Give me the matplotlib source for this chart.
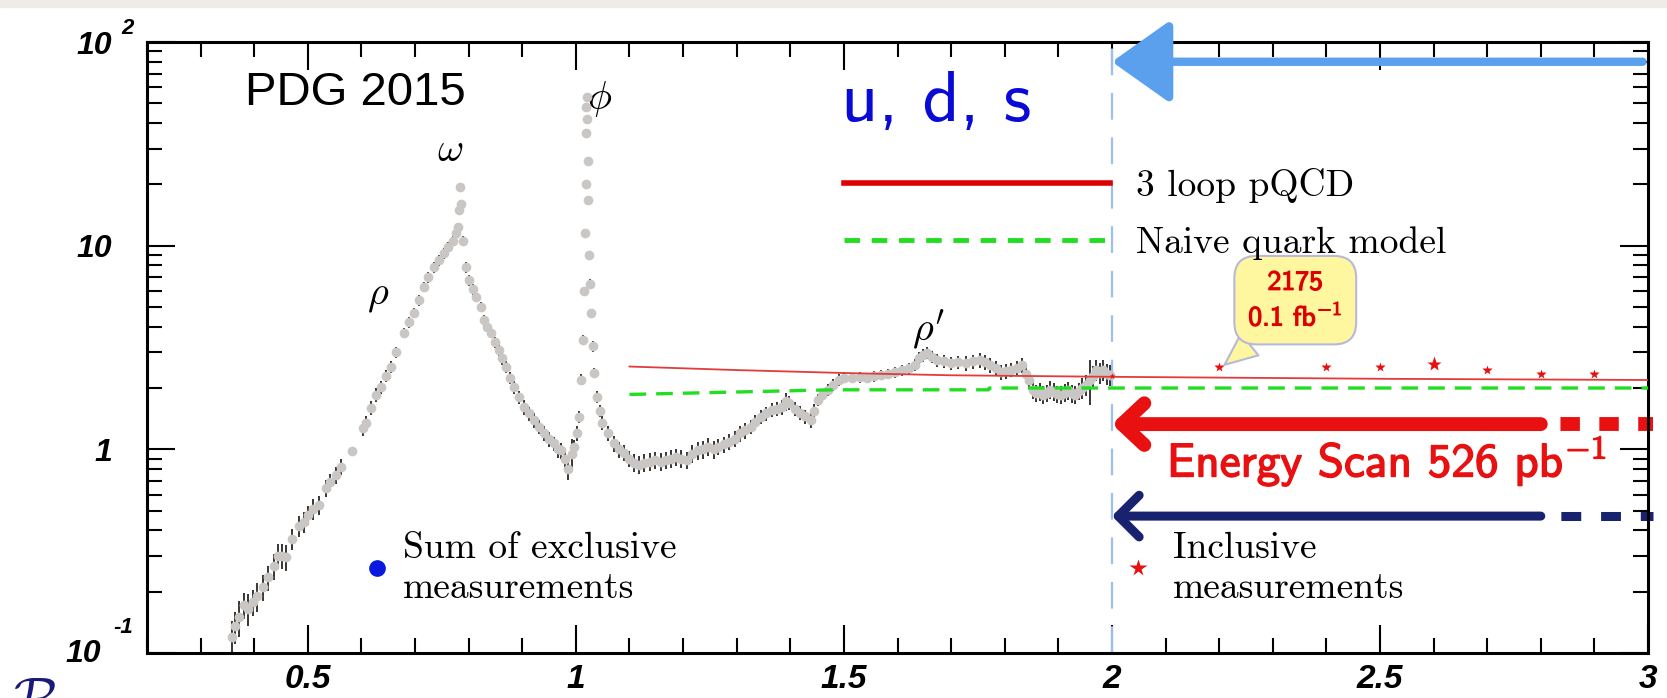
import numpy as np
import matplotlib
matplotlib.use("Agg")
import matplotlib.pyplot as plt
import matplotlib.patheffects as pe
from matplotlib.lines import Line2D
from matplotlib.patches import Rectangle
from matplotlib.ticker import MultipleLocator, LogLocator, NullFormatter

plt.rcParams['font.family'] = ['Liberation Sans', 'DejaVu Sans']

# R = sigma(ee->hadrons)/sigma(ee->mumu), sqrt(s) in GeV, error in percent
# rho / omega region
mass_a = [0.359, 0.365, 0.372, 0.380, 0.388, 0.398, 0.405, 0.417, 0.425, 0.436,
          0.445, 0.452, 0.460, 0.471, 0.483, 0.492, 0.501, 0.510, 0.520, 0.533,
          0.542, 0.552, 0.561, 0.582, 0.602, 0.608, 0.617, 0.627, 0.636, 0.645,
          0.655, 0.665, 0.679, 0.688, 0.698, 0.707, 0.716, 0.725, 0.735, 0.745,
          0.754, 0.762, 0.771, 0.776, 0.780, 0.782, 0.783, 0.785, 0.789, 0.795,
          0.801, 0.808, 0.814, 0.823, 0.829, 0.835, 0.842, 0.850, 0.857, 0.863,
          0.870, 0.877, 0.885, 0.894, 0.903, 0.912, 0.922, 0.931, 0.941, 0.950,
          0.960, 0.966, 0.973, 0.980, 0.986, 0.992]
R_a = [0.12, 0.135, 0.15, 0.172, 0.165, 0.178, 0.19, 0.211, 0.235, 0.267,
       0.30, 0.30, 0.296, 0.363, 0.42, 0.44, 0.475, 0.51, 0.533, 0.646,
       0.69, 0.748, 0.819, 0.98, 1.27, 1.35, 1.6, 1.85, 2.02, 2.3,
       2.54, 3.0, 3.73, 4.2, 4.67, 5.4, 6.27, 7.0, 7.85, 8.5,
       9.2, 9.8, 10.6, 11.5, 12.3, 15.0, 19.4, 16.0, 10.6, 7.85,
       6.78, 6.1, 5.6, 5.0, 4.3, 4.0, 3.73, 3.35, 3.07, 2.8,
       2.54, 2.25, 2.02, 1.8, 1.61, 1.5, 1.39, 1.29, 1.2, 1.12,
       1.07, 1.0, 0.99, 0.9, 0.8, 0.95]
err_a = [20, 18, 20, 15, 18, 15, 16, 15, 14, 15, 14, 14, 15, 12, 12, 12, 11, 12, 11, 10,
         10, 10, 9, 5, 8, 8, 8, 8, 7, 7, 7, 6, 6, 6, 6, 6, 6, 6, 6, 6,
         6, 6, 5, 5, 5, 5, 5, 4, 5, 6, 6, 6, 6, 6, 6, 6, 6, 6, 6, 7,
         7, 7, 7, 7, 8, 8, 8, 8, 8, 8, 8, 9, 9, 10, 12, 18]

# phi region
mass_b = [0.997, 1.003, 1.006, 1.010, 1.014, 1.016, 1.017, 1.018, 1.019, 1.0195,
          1.020, 1.021, 1.022, 1.023, 1.025, 1.027, 1.029, 1.032, 1.034, 1.039,
          1.045, 1.049, 1.059, 1.072, 1.080, 1.089, 1.100]
R_b = [1.03, 1.2, 1.44, 2.2, 3.45, 6.0, 11.5, 20.0, 35.7, 48.0,
       54.0, 42.0, 26.0, 16.7, 9.0, 6.5, 4.67, 3.2, 2.37, 1.81,
       1.55, 1.35, 1.2, 1.07, 1.0, 0.96, 0.9]
err_b = [8, 8, 7, 6, 5, 5, 4, 4, 4, 4, 4, 4, 4, 4, 4, 5, 5, 6, 6, 7,
         7, 8, 8, 9, 9, 9, 9]

# 1.1 - 1.5 GeV
mass_c = [1.109, 1.118, 1.128, 1.138, 1.148, 1.158, 1.168, 1.178, 1.187, 1.197,
          1.207, 1.217, 1.227, 1.237, 1.247, 1.257, 1.266, 1.276, 1.286, 1.296,
          1.306, 1.316, 1.326, 1.335, 1.345, 1.355, 1.365, 1.375, 1.385, 1.392,
          1.398, 1.408, 1.418, 1.428, 1.438, 1.445, 1.451, 1.460, 1.470, 1.480,
          1.490]
R_c = [0.86, 0.84, 0.86, 0.87, 0.885, 0.87, 0.885, 0.90, 0.916, 0.90,
       0.885, 0.95, 0.99, 1.0, 1.03, 1.0, 1.03, 1.06, 1.09, 1.13,
       1.20, 1.24, 1.29, 1.36, 1.44, 1.50, 1.56, 1.58, 1.61, 1.72,
       1.69, 1.58, 1.51, 1.45, 1.39, 1.55, 1.75, 1.85, 1.96, 2.08,
       2.19]
err_c = [10, 10, 10, 10, 10, 10, 10, 10, 10, 10, 10, 10, 10, 10, 10, 10, 9, 9, 9, 9,
         9, 9, 8, 8, 8, 8, 8, 8, 8, 10, 8, 8, 8, 8, 8, 8, 7, 7, 7, 7,
         7]

# 1.5 - 2.0 GeV
mass_d = [1.500, 1.516, 1.530, 1.543, 1.556, 1.569, 1.582, 1.595, 1.608, 1.622,
          1.632, 1.641, 1.648, 1.655, 1.664, 1.674, 1.687, 1.700, 1.713, 1.727,
          1.740, 1.753, 1.763, 1.773, 1.783, 1.793, 1.803, 1.812, 1.822, 1.832,
          1.840, 1.846, 1.852, 1.858, 1.865, 1.872, 1.878, 1.884, 1.891, 1.898,
          1.905, 1.912, 1.918, 1.925, 1.931, 1.938, 1.945, 1.952, 1.959, 1.965,
          1.970, 1.977, 1.983, 1.990, 1.996]
R_d = [2.25, 2.24, 2.26, 2.24, 2.28, 2.32, 2.35, 2.39, 2.44, 2.50,
       2.60, 2.80, 2.90, 2.97, 2.85, 2.74, 2.70, 2.65, 2.68, 2.65,
       2.70, 2.74, 2.68, 2.59, 2.50, 2.39, 2.42, 2.45, 2.52, 2.59,
       2.35, 2.19, 1.96, 1.89, 1.92, 1.85, 1.89, 1.96, 1.92, 1.87,
       1.85, 1.90, 1.95, 1.88, 1.85, 1.93, 2.0, 2.08, 2.19, 2.30,
       2.45, 2.38, 2.45, 2.35, 2.32]
err_d = [6, 6, 6, 6, 6, 6, 6, 6, 6, 6, 7, 7, 7, 7, 7, 7, 7, 7, 7, 8,
         8, 8, 8, 8, 8, 8, 8, 8, 8, 8, 10, 10, 10, 10, 10, 10, 10, 10, 10, 10,
         10, 10, 10, 10, 10, 10, 12, 12, 25, 12, 12, 12, 12, 12, 12]

# theory curves
qcd_mass = [1.1, 1.3, 1.5, 1.7, 2.0, 2.5, 3.0]
qcd_R = [2.55, 2.45, 2.37, 2.31, 2.27, 2.22, 2.19]
qpm_mass = [1.10, 1.48, 1.77, 1.771, 3.0]
qpm_R = [1.86, 1.96, 1.96, 2.0, 2.0]

# inclusive measurements
incl_mass = [2.0, 2.2, 2.4, 2.5, 2.6, 2.7, 2.8, 2.9]
incl_R = [2.30, 2.54, 2.54, 2.54, 2.61, 2.46, 2.35, 2.35]
incl_ms = [5, 7, 7, 7, 11, 7, 7, 7]

# scan ranges
scan_lo, scan_hi = 2.0, 2.8
scan_R = 1.33
incl_arrow_R = 0.47
top_arrow_R = 80

x_ticks = [0.5, 1, 1.5, 2, 2.5, 3]
x_tick_labels = ['0.5', '1', '1.5', '2', '2.5', '3']
y_ticks = [0.1, 1, 10, 100]
y_tick_labels = ['', '1', '10', '10']

RED = '#e81010'
GREEN = '#22dd22'
NAVY = '#18226e'

fig = plt.figure(figsize=(16.67, 6.98), dpi=100)
fig.patches.append(Rectangle((0, 1 - 7 / 698), 1, 7 / 698, transform=fig.transFigure,
                             color='#efebe7', zorder=0))
ax = fig.add_axes([0.0882, 0.0645, 0.9004, 0.8753])

m = np.concatenate([mass_a, mass_b, mass_c, mass_d])
r = np.concatenate([R_a, R_b, R_c, R_d])
e = r * np.concatenate([err_a, err_b, err_c, err_d]) / 100.0
ax.vlines(m, r - e, r + e, color='black', lw=1.1, zorder=3)
ax.plot(m, r, 'o', color='#c9c6c3', ms=7, mec='none', zorder=4)

ax.plot(qcd_mass, qcd_R, color='#e03c3c', lw=1.3, zorder=5)
ax.plot(qpm_mass, qpm_R, color=GREEN, lw=2.4, dashes=(5, 3), zorder=5)
for xm, yr, s in zip(incl_mass, incl_R, incl_ms):
    ax.plot(xm, yr, '*', color=RED, ms=s, mec='none', zorder=6)

ax.axvline(scan_lo, color='#9cc0ec', lw=1.6, dashes=(12, 8), zorder=2)

# arrows
ax.annotate('', xy=(scan_lo, top_arrow_R), xytext=(2.99, top_arrow_R),
            arrowprops=dict(arrowstyle='-|>,head_length=3.6,head_width=2.55',
                            mutation_scale=10, lw=6, color='#5aa0ec',
                            shrinkA=0, shrinkB=0), annotation_clip=False)
ax.annotate('', xy=(scan_lo, scan_R), xytext=(scan_hi, scan_R),
            arrowprops=dict(arrowstyle='->,head_length=1.6,head_width=1.5',
                            mutation_scale=10, lw=10, color=RED,
                            shrinkA=0, shrinkB=0))
ax.plot([scan_hi, 3.01], [scan_R, scan_R], color=RED, lw=10,
        linestyle=(1.4, (1.4, 1.4)), clip_on=False)
ax.annotate('', xy=(scan_lo, incl_arrow_R), xytext=(scan_hi, incl_arrow_R),
            arrowprops=dict(arrowstyle='->,head_length=1.5,head_width=1.5',
                            mutation_scale=10, lw=6.5, color=NAVY,
                            shrinkA=0, shrinkB=0))
ax.plot([scan_hi, 3.01], [incl_arrow_R, incl_arrow_R], color=NAVY, lw=6.5,
        linestyle=(2.2, (2.2, 2.2)), clip_on=False)

# texts
ax.text(0.588, 56, 'PDG 2015', fontsize=34, ha='center', va='center')
greek = dict(fontsize=29, ha='center', va='center', math_fontfamily='cm')
ax.text(0.765, 29.4, r'$\omega$', **greek)
ax.text(0.631, 5.66, r'$\rho$', **greek)
ax.text(1.045, 52.5, r'$\phi$', **greek)
ax.text(1.657, 3.9, r"$\rho'$", **greek)
ax.text(1.672, 50, 'u, d, s', family='cmss10', fontsize=52, color='#0a0ad8',
        ha='center', va='center')
ax.text(2.513, 0.87, r'Energy Scan 526 pb$^{-1}$', family='cmss10', fontsize=34,
        color=RED, ha='center', va='center', math_fontfamily='cm',
        path_effects=[pe.withStroke(linewidth=1.0, foreground=RED)])
ax.annotate('2175\n0.1 fb$^{-1}$', xy=(2.21, 2.6), xytext=(2.342, 5.4),
            ha='center', va='center', family='cmss10', fontsize=20, color='#dd0000',
            math_fontfamily='cm', linespacing=1.3,
            path_effects=[pe.withStroke(linewidth=0.8, foreground='#dd0000')],
            bbox=dict(boxstyle='round,pad=0.5,rounding_size=0.8', fc='#fff6a0',
                      ec='#b8b8d8', lw=1.5),
            arrowprops=dict(arrowstyle='wedge,tail_width=1.0', fc='#fff6a0',
                            ec='#b8b8d8', lw=1.5, relpos=(0.2, 0.0),
                            shrinkA=0, shrinkB=0))

# legends
lprop = {'family': 'cmr10', 'size': 27}
h1 = [Line2D([], [], color='#dd0000', lw=4),
      Line2D([], [], color=GREEN, lw=3.5, dashes=(3.2, 2.4))]
leg1 = ax.legend(h1, ['3 loop pQCD', 'Naive quark model'], loc='upper left',
                 bbox_to_anchor=(0.4643, 0.794), frameon=False, prop=lprop,
                 handlelength=7.1, handletextpad=0.7, borderpad=0,
                 borderaxespad=0, labelspacing=0.62)
ax.add_artist(leg1)
h2 = [Line2D([], [], marker='o', ls='', color='#0a18e0', ms=11)]
leg2 = ax.legend(h2, ['Sum of exclusive\nmeasurements'], loc='center left',
                 bbox_to_anchor=(0.1406, 0.139), frameon=False, prop=lprop,
                 handlelength=1.0, handletextpad=0.19, borderpad=0, borderaxespad=0)
ax.add_artist(leg2)
h3 = [Line2D([], [], marker='*', ls='', color=RED, ms=13, mec='none')]
leg3 = ax.legend(h3, ['Inclusive\nmeasurements'], loc='center left',
                 bbox_to_anchor=(0.648, 0.139), frameon=False, prop=lprop,
                 handlelength=1.0, handletextpad=0.41, borderpad=0, borderaxespad=0)
for lg in (leg2, leg3):
    for t in lg.get_texts():
        t.set_linespacing(1.25)

# axes
ax.set_xlim(0.2, 3.0)
ax.set_yscale('log')
ax.set_ylim(0.1, 100)
ax.set_xticks(x_ticks)
ax.set_xticklabels(x_tick_labels, fontsize=24, fontweight='bold', fontstyle='italic')
ax.xaxis.set_minor_locator(MultipleLocator(0.1))
ax.set_yticks(y_ticks)
ax.set_yticklabels(y_tick_labels, fontsize=23, fontweight='bold', fontstyle='italic')
ax.yaxis.set_minor_locator(LogLocator(base=10, subs=np.arange(2, 10)))
ax.yaxis.set_minor_formatter(NullFormatter())
ax.tick_params(which='both', direction='in', top=True, right=True, width=1.5)
ax.tick_params(which='major', length=20)
ax.tick_params(which='minor', length=10.5)
ax.tick_params(axis='x', pad=8)
ax.tick_params(axis='y', pad=25)
for s in ax.spines.values():
    s.set_linewidth(2.2)

lab = dict(xycoords=('axes fraction', 'data'), textcoords='offset points',
           ha='center', va='center', fontweight='bold', fontstyle='italic',
           annotation_clip=False)
ax.annotate('2', xy=(0, 100), xytext=(-13.7, 10), fontsize=16, **lab)
ax.annotate('-1', xy=(0, 0.1), xytext=(-17.3, 18.7), fontsize=16, **lab)
ax.annotate('10', xy=(0, 0.1), xytext=(-46, -0.7), fontsize=23, **lab)

fig.text(0.008, 0.030, r'$\mathcal{R}$', fontsize=40, color='#1a1a7a', va='top',
         math_fontfamily='cm')

fig.savefig('out.png', dpi=100)
